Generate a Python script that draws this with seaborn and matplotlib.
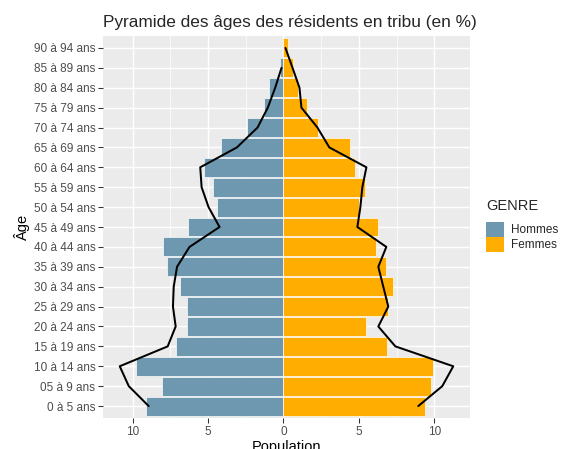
import numpy as np
import pandas as pd
import matplotlib
matplotlib.use("Agg")
import matplotlib.pyplot as plt
from matplotlib.patches import Patch
from matplotlib.ticker import FuncFormatter
import seaborn as sns

# Tranches d'age (du bas vers le haut)
ages = ["0 à 5 ans", "05 à 9 ans", "10 à 14 ans", "15 à 19 ans", "20 à 24 ans",
        "25 à 29 ans", "30 à 34 ans", "35 à 39 ans", "40 à 44 ans", "45 à 49 ans",
        "50 à 54 ans", "55 à 59 ans", "60 à 64 ans", "65 à 69 ans", "70 à 74 ans",
        "75 à 79 ans", "80 à 84 ans", "85 à 89 ans", "90 à 94 ans"]

# Barres : residents en tribu (en %)
hommes = [9.14, 8.08, 9.76, 7.15, 6.42, 6.42, 6.89, 7.75, 8.01, 6.36,
          4.44, 4.70, 5.30, 4.17, 2.45, 1.32, 0.93, 0.26, np.nan]
femmes = [9.40, 9.80, 9.93, 6.89, 5.50, 6.95, 7.28, 6.82, 6.16, 6.29,
          5.03, 5.43, 4.77, 4.44, 2.32, 1.59, 0.93, 0.60, 0.33]

# Ligne : population de comparaison (en %)
ligne_hommes = [8.94, 10.26, 10.86, 7.68, 7.15, 7.33, 7.28, 7.06, 6.23, 4.24,
                4.97, 5.43, 5.52, 3.09, 1.72, 1.04, 0.55, 0.13, np.nan]
ligne_femmes = [8.94, 10.53, 11.26, 7.42, 6.29, 6.95, 6.62, 6.29, 6.82, 4.90,
                5.10, 5.23, 5.50, 3.04, 2.25, 1.19, 1.06, 0.60, 0.13]

couleurs = {"Hommes": "#6E98B0", "Femmes": "#FFAD00"}

# table longue pour seaborn (hommes en negatif)
df = pd.DataFrame({
    "age": ages * 2,
    "pop": [-v for v in hommes] + femmes,
    "GENRE": ["Hommes"] * len(ages) + ["Femmes"] * len(ages),
})

sns.set_theme(style="darkgrid")
plt.rcParams["font.family"] = ["Liberation Sans", "DejaVu Sans"]
plt.rcParams["axes.facecolor"] = "#EBEBEB"
plt.rcParams["grid.color"] = "white"

fig = plt.figure(figsize=(561 / 96, 449 / 96), dpi=96)
ax = fig.add_axes([103 / 561, 31 / 449, 367 / 561, 382 / 449])

ordre = ages[::-1]  # premiere categorie en haut
sns.barplot(data=df, x="pop", y="age", hue="GENRE", order=ordre,
            hue_order=["Hommes", "Femmes"], palette=couleurs, dodge=False,
            orient="h", width=0.95, edgecolor="white", linewidth=0.5,
            saturation=1, errorbar=None, legend=False, ax=ax)

# ligne par dessus les barres
pos = [ordre.index(a) for a in ages]
ax.plot([-v for v in ligne_hommes], pos, color="black", lw=1.5, zorder=5)
ax.plot(ligne_femmes, pos, color="black", lw=1.5, zorder=5)

ax.set_xlim(-11.97, 12.37)
ax.set_ylim(len(ages) - 0.4, -0.6)
ax.set_xticks([-10, -5, 0, 5, 10])
ax.set_xticks([-7.5, -2.5, 2.5, 7.5], minor=True)
ax.xaxis.set_major_formatter(FuncFormatter(lambda v, p: f"{abs(v):g}"))
ax.grid(which="major", color="white", lw=1.07)
ax.grid(which="minor", axis="x", color="white", lw=0.53)
ax.set_axisbelow(True)
for s in ax.spines.values():
    s.set_visible(False)

ax.tick_params(axis="both", which="major", length=3.7, width=0.8, color="#333333",
               labelsize=8.8, labelcolor="#4D4D4D", pad=2, direction="out")
ax.tick_params(which="minor", length=0)
ax.tick_params(axis="x", bottom=True)
ax.tick_params(axis="y", left=True)

ax.set_xlabel("Population", fontsize=11, labelpad=2, color="black")
ax.set_ylabel("Âge", fontsize=11, labelpad=3, color="black")
ax.set_title("Pyramide des âges des résidents en tribu (en %)", fontsize=12.9,
             loc="left", pad=7)

# legende facon ggplot
fig.text(486 / 561, 1 - 206 / 449, "GENRE", fontsize=11, ha="left", va="center")
handles = [Patch(facecolor=couleurs[g], edgecolor="none", label=g) for g in ["Hommes", "Femmes"]]
leg = ax.legend(handles=handles, loc="upper left",
                bbox_to_anchor=(486 / 561, 1 - 222 / 449), bbox_transform=fig.transFigure,
                frameon=False, borderpad=0, borderaxespad=0, handlelength=1.5,
                handleheight=1.6, labelspacing=0, handletextpad=0.6,
                fontsize=8.8)

fig.savefig("out.png", dpi=96)
